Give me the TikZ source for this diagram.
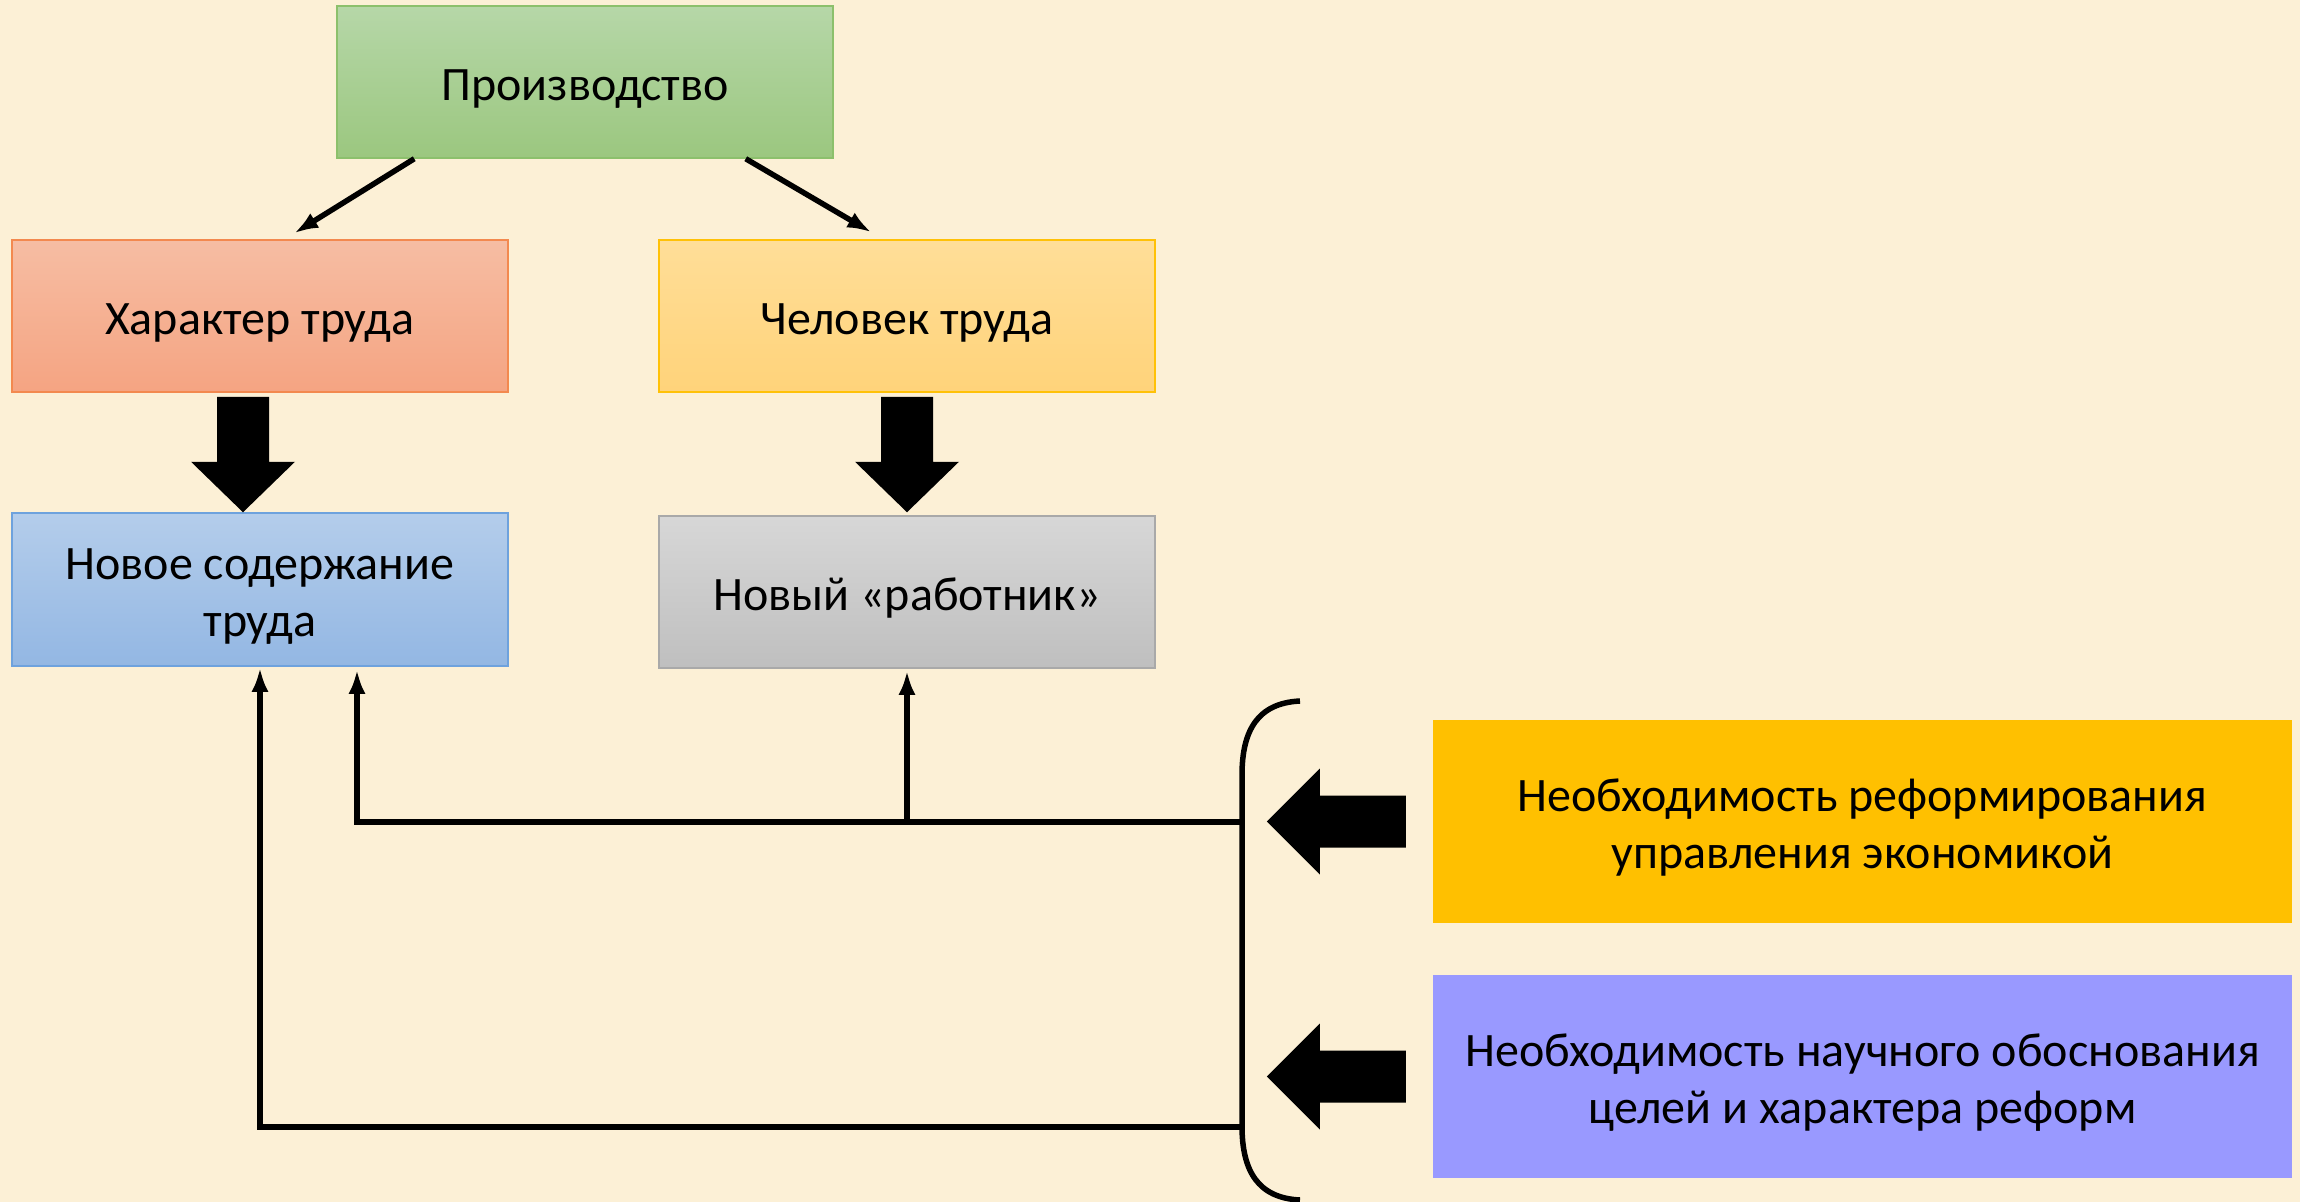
\documentclass[tikz,border=0pt]{standalone}
\usepackage{fontspec}
\setmainfont{Carlito}
\usetikzlibrary{calc,arrows.meta}
\definecolor{bg}{HTML}{FCF0D6}
\definecolor{gtop}{HTML}{B6D7A8}
\definecolor{gbot}{HTML}{9BC77F}
\definecolor{gbrd}{HTML}{8CC06C}
\definecolor{otop}{HTML}{F6BDA3}
\definecolor{obot}{HTML}{F5A482}
\definecolor{obrd}{HTML}{F3894F}
\definecolor{ytop}{HTML}{FFDE98}
\definecolor{ybot}{HTML}{FFD37A}
\definecolor{ybrd}{HTML}{FFC107}
\definecolor{btop}{HTML}{B4CDEB}
\definecolor{bbot}{HTML}{93B7E3}
\definecolor{bbrd}{HTML}{6EA2DD}
\definecolor{stop}{HTML}{D7D7D7}
\definecolor{sbot}{HTML}{BFBFBF}
\definecolor{sbrd}{HTML}{A9A9A9}
\definecolor{gold}{HTML}{FFC000}
\definecolor{lav}{HTML}{9999FF}
\newcommand{\myT}{\rule{0pt}{48pt}}
\newcommand{\myB}{\rule[-12pt]{0pt}{12pt}}
\begin{document}
\begin{tikzpicture}[x=1pt,y=-1pt,
  box/.style={draw, line width=1.5pt, minimum width=496pt, minimum height=152pt,
    inner sep=0pt, align=center, font=\fontsize{48}{57}\selectfont},
  bigbox/.style={minimum width=859pt, minimum height=203pt, inner sep=0pt,
    align=center, font=\fontsize{48}{57}\selectfont},
  conn/.style={line width=5.5pt, line join=miter, -{Latex[length=24pt,width=17pt]}},
  blk/.style={fill=black}]
\fill[bg] (0,0) rectangle (2300,1202);
\useasboundingbox (0,0) rectangle (2300,1202);

\node[box, draw=gbrd, top color=gtop, bottom color=gbot] (prod) at (585,82) {\myT Производство\myB};
\node[box, draw=obrd, top color=otop, bottom color=obot] (har) at (260,316) {\myT Характер труда\myB};
\node[box, draw=ybrd, top color=ytop, bottom color=ybot] (chel) at (907,316) {\myT Человек труда\myB};
\node[box, draw=bbrd, top color=btop, bottom color=bbot, minimum height=153pt] (nov) at (260,589.5) {\myT Новое содержание\\труда\myB};
\node[box, draw=sbrd, top color=stop, bottom color=sbot] (rab) at (907,592) {\myT Новый «работник»\myB};
\node[bigbox, fill=gold] (ref) at (1862.5,821.5) {\myT Необходимость реформирования\\управления экономикой\myB};
\node[bigbox, fill=lav] (nauch) at (1862.5,1076.5) {\myT Необходимость научного обоснования\\целей и характера реформ\myB};

% arrows from Производство
\draw[conn] ($(prod.south west)+(78,0)$) -- ($(har.north west)+(283,-6)$);
\draw[conn] ($(prod.south east)+(-88,0)$) -- ($(chel.north west)+(213,-7)$);

% block down arrows
\fill[blk] ($(har.south)+(-43,4)$) coordinate (a1) -- ++(52,0) -- ++(0,65) -- ++(26,0)
  -- ($(nov.north)+(-17,0)$) -- ($(a1)+(-26,65)$) -- ($(a1)+(0,65)$) -- cycle;
\fill[blk] ($(chel.south)+(-26,4)$) coordinate (a2) -- ++(52,0) -- ++(0,65) -- ++(26,0)
  -- ($(rab.north)+(0,-3)$) -- ($(a2)+(-26,65)$) -- ($(a2)+(0,65)$) -- cycle;

% block left arrows
\fill[blk] ($(ref.west)+(-27,-26)$) coordinate (b1) -- ++(0,52) -- ++(-86,0) -- ++(0,27)
  -- ($(ref.west)+(-166,0)$) -- ($(b1)+(-86,-27)$) -- ($(b1)+(-86,0)$) -- cycle;
\fill[blk] ($(nauch.west)+(-27,-26)$) coordinate (b2) -- ++(0,52) -- ++(-86,0) -- ++(0,27)
  -- ($(nauch.west)+(-166,0)$) -- ($(b2)+(-86,-27)$) -- ($(b2)+(-86,0)$) -- cycle;

% bracket
\coordinate (brt) at (1300,701);
\coordinate (brb) at (1300,1200);
\draw[line width=5.5pt] (brt) .. controls (1258,703) and (1242,730) .. (1242,775)
  -- (1242,1126) .. controls (1242,1171) and (1258,1198) .. (brb);

% feedback connectors
\coordinate (j1) at (1242,822);
\coordinate (j2) at (1242,1127);
\draw[conn] (j1) -| ($(nov.south)+(97,3)$);
\draw[conn] (j2) -| ($(nov.south)+(0,1)$);
\draw[conn] (rab.south |- j1) -- ($(rab.south)+(0,2)$);
\end{tikzpicture}
\end{document}
